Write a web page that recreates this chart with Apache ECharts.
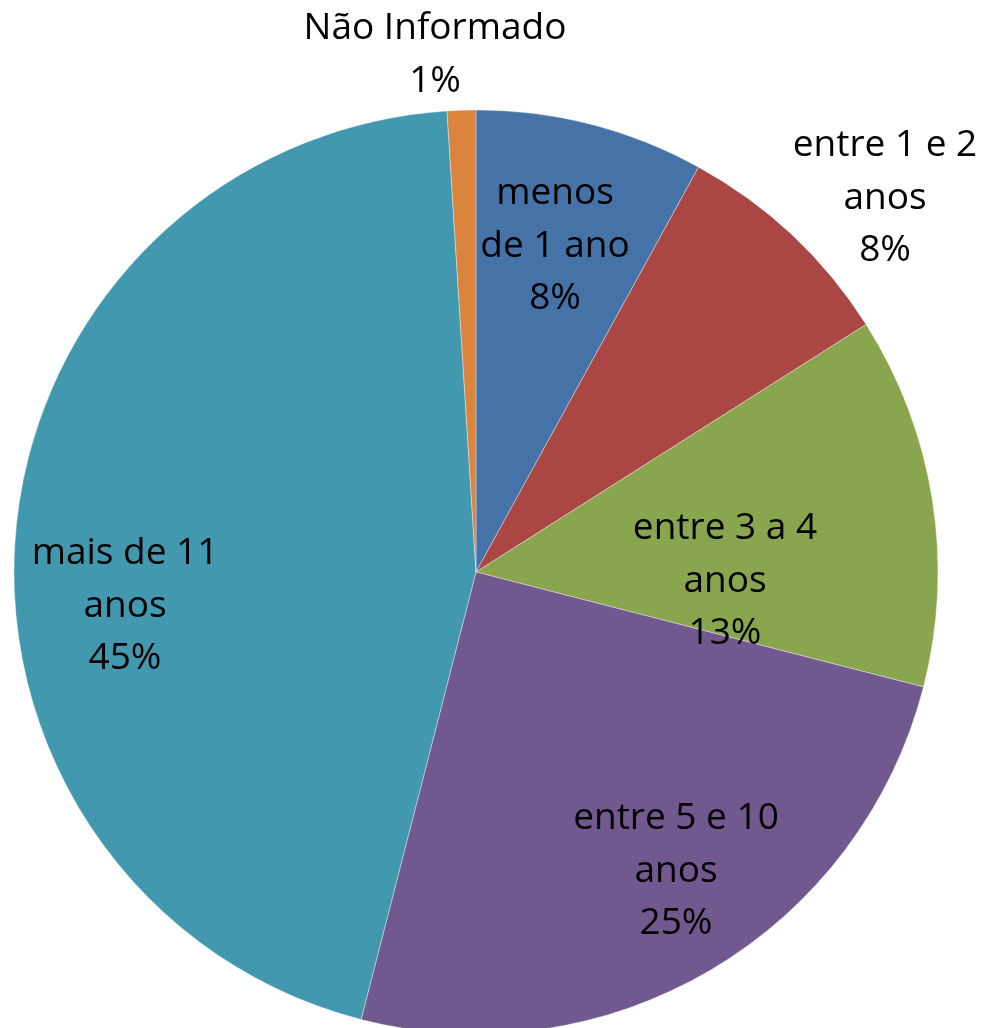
<!DOCTYPE html>
<html>
<head>
<meta charset="utf-8">
<script src="https://cdn.jsdelivr.net/npm/echarts@6/dist/echarts.min.js"></script>
<style>
  html, body { margin: 0; padding: 0; background: #ffffff; }
  #chart { width: 988px; height: 1028px; }
</style>
</head>
<body>
<div id="chart"></div>
<script>
// Tempo de serviço: categories and percentage shares
const categories = ['menos\nde 1 ano', 'entre 1 e 2\nanos', 'entre 3 a 4\nanos', 'entre 5 e 10\nanos', 'mais de 11\nanos', 'Não Informado'];
const shares = [8, 8, 13, 25, 45, 1];
const colors = ['#4572A7', '#AA4643', '#89A54E', '#71588F', '#4198AF', '#DB843D'];

// Label anchor points (block centres, in pixels)
const labelAnchors = [[555, 246], [885, 198], [725, 581], [676, 871], [125, 606], [435, 55]];

const chart = echarts.init(document.getElementById('chart'), null, { renderer: 'canvas' });

chart.setOption({
  animation: false,
  backgroundColor: '#ffffff',
  series: [{
    type: 'pie',
    center: [476, 572],
    radius: 462,
    startAngle: 90,
    clockwise: true,
    avoidLabelOverlap: false,
    silent: true,
    data: categories.map((name, i) => ({
      name: name,
      value: shares[i],
      itemStyle: { color: colors[i] }
    })),
    itemStyle: { borderWidth: 0.6, borderColor: 'rgba(255,255,255,0.6)' },
    label: {
      show: true,
      position: 'inside',
      formatter: p => p.name + '\n' + Math.round(p.percent) + '%',
      fontFamily: 'Open Sans',
      fontSize: 37,
      lineHeight: 52.5,
      color: '#000000',
      align: 'center'
    },
    labelLine: { show: false },
    labelLayout: p => ({
      x: labelAnchors[p.dataIndex][0],
      y: labelAnchors[p.dataIndex][1],
      align: 'center',
      verticalAlign: 'middle'
    })
  }]
});
</script>
</body>
</html>
